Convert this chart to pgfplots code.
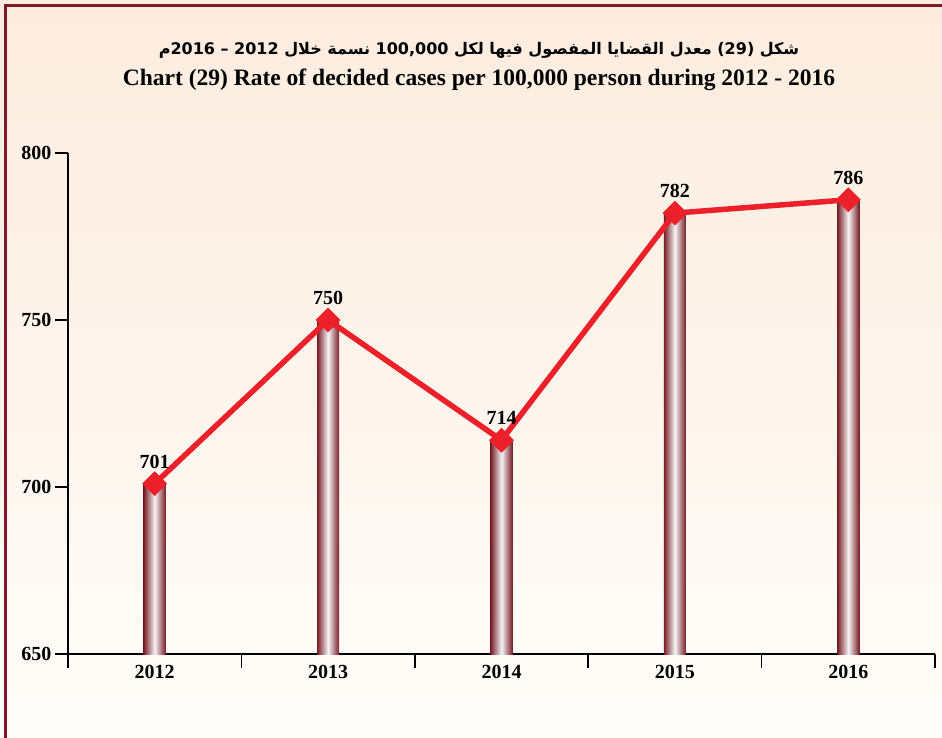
\documentclass[border=0pt]{standalone}
\usepackage{pgfplots}
\pgfplotsset{compat=1.18}
\usepackage{fontspec}
\setmainfont{Liberation Serif}
\newfontfamily\arabicfont[Script=Arabic]{DejaVu Sans}
\TeXXeTstate=1

\definecolor{bgtop}{RGB}{252,236,222}
\definecolor{bgbot}{RGB}{255,253,250}
\definecolor{framecol}{RGB}{130,22,45}
\definecolor{linered}{RGB}{236,32,40}
\definecolor{barcol}{RGB}{120,28,38}

\pgfplotsset{
  cyl/.style={ybar, bar width=22pt, draw=none,
    left color=barcol, right color=barcol, middle color=white!92!gray},
}

\begin{document}
\begin{tikzpicture}
  \useasboundingbox (0,0) rectangle (942pt,737pt);
  % background and frame
  \shade[top color=bgtop, bottom color=bgbot] (0,0) rectangle (942pt,737pt);
  \draw[framecol, line width=3pt] (5.5pt,-10pt) -- (5.5pt,731.5pt) -- (960pt,731.5pt);

  % titles
  \node[font=\arabicfont\bfseries\fontsize{16}{20}\selectfont] at (479pt,687pt)
    {\beginR شكل (29) معدل القضايا المفصول فيها لكل 100,000 نسمة خلال 2012 – 2016م\endR};
  \node[font=\bfseries\fontsize{23.5}{28}\selectfont] at (479pt,657pt)
    {Chart (29) Rate of decided cases per 100,000 person during 2012 - 2016};

  \begin{axis}[
      at={(68pt,83pt)}, anchor=south west,
      scale only axis, width=867pt, height=501pt,
      xmin=-0.5, xmax=4.5,
      ymin=650, ymax=800,
      axis lines*=left,
      x axis line style={line width=2.5pt},
      y axis line style={line width=1.8pt},
      tick align=outside,
      xtick={0,1,2,3,4},
      xticklabels={2012,2013,2014,2015,2016},
      major x tick style={draw=none},
      minor xtick={-0.5,0.5,1.5,2.5,3.5,4.5},
      minor tick length=14pt,
      minor tick style={line width=1.5pt, black},
      ytick={650,700,750,800},
      yticklabels={650,700,750,800},
      major tick length=13pt,
      major y tick style={line width=1.5pt, black},
      ticklabel style={font=\bfseries\fontsize{20}{24}\selectfont},
      xticklabel style={yshift=5pt},
      clip=true,
    ]

    % cylinders, one per year so each gets its own shading
    \addplot[cyl] coordinates {(0,701)};
    \addplot[cyl] coordinates {(1,750)};
    \addplot[cyl] coordinates {(2,714)};
    \addplot[cyl] coordinates {(3,782)};
    \addplot[cyl] coordinates {(4,786)};

    % rate line
    \addplot[color=linered, line width=5.5pt,
             mark=square*, mark size=8.5pt,
             mark options={rotate=45, line width=0.5pt, fill=linered, draw=linered},
             nodes near coords={\bfseries\fontsize{20}{24}\selectfont
               \pgfmathprintnumber[assume math mode=true]{\pgfplotspointmeta}},
             every node near coord/.append style={text=black, anchor=south,
               inner sep=0pt, yshift=15pt}]
      coordinates {(0,701) (1,750) (2,714) (3,782) (4,786)};
  \end{axis}
\end{tikzpicture}
\end{document}
